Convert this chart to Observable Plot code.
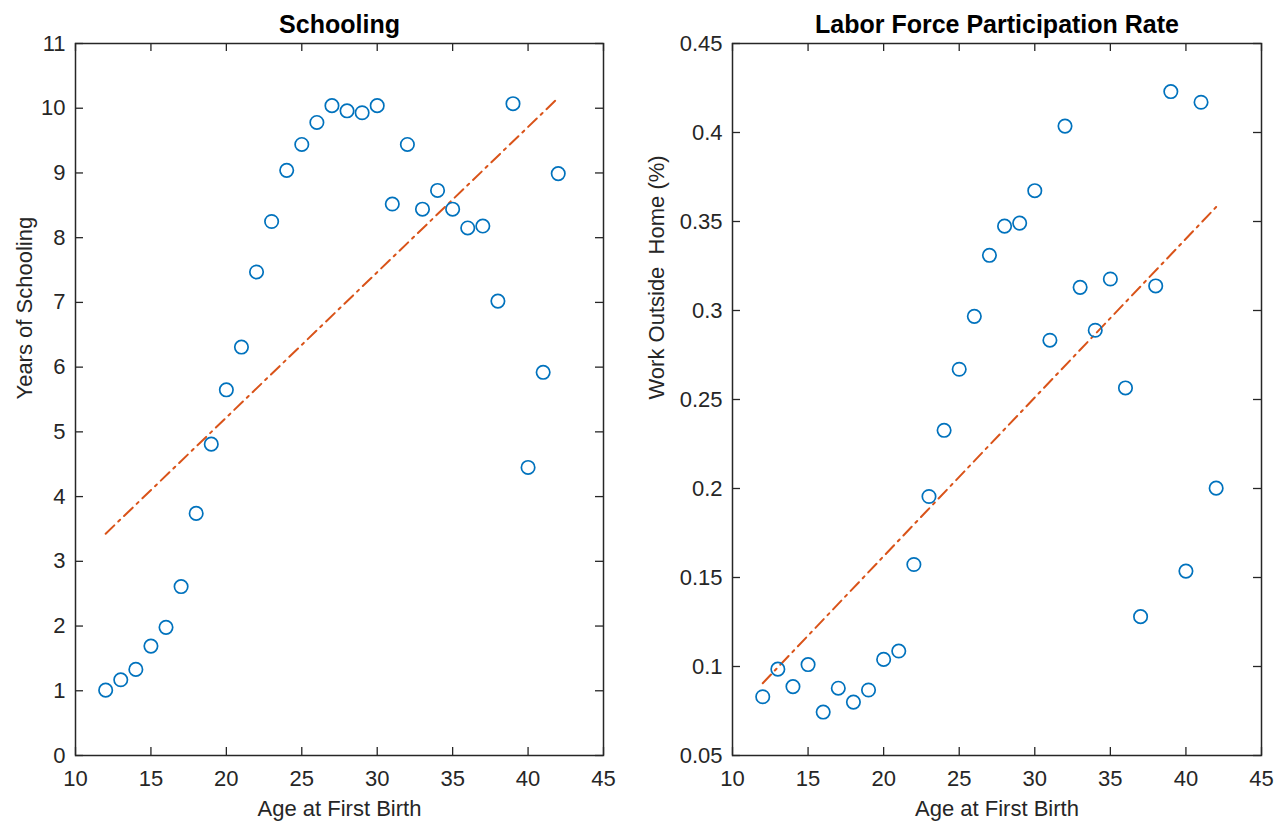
<!DOCTYPE html>
<html>
<head>
<meta charset="utf-8">
<script src="https://cdn.jsdelivr.net/npm/d3@7"></script>
<script src="https://cdn.jsdelivr.net/npm/@observablehq/plot@0.6"></script>
<style>
  html, body { margin: 0; padding: 0; background: #fff; }
  #wrap { display: flex; width: 1280px; height: 823px; }
</style>
</head>
<body>
<div id="wrap"></div>
<script>
// ---- data ----
const ages = [12,13,14,15,16,17,18,19,20,21,22,23,24,25,26,27,28,29,30,31,32,33,34,35,36,37,38,39,40,41,42];
const schooling = [1.01,1.17,1.33,1.69,1.98,2.61,3.74,4.81,5.65,6.31,7.47,8.25,9.04,9.44,9.78,10.04,9.96,9.93,10.04,8.52,9.44,8.44,8.73,8.44,8.15,8.18,7.02,10.07,4.45,5.92,8.99];
const lfpr = [0.083,0.0985,0.0887,0.1011,0.0744,0.0878,0.080,0.0868,0.104,0.1087,0.1573,0.1955,0.2327,0.267,0.2967,0.331,0.3474,0.3491,0.3673,0.2833,0.4036,0.313,0.2889,0.3177,0.2565,0.128,0.3138,0.423,0.1536,0.417,0.2002];
const xTicks = [10,15,20,25,30,35,40,45];
const yTicksSchool = [0,1,2,3,4,5,6,7,8,9,10,11];
const yTicksLfpr = [0.05,0.1,0.15,0.2,0.25,0.3,0.35,0.4,0.45];
const titles = ["Schooling", "Labor Force Participation Rate"];
const xLabel = "Age at First Birth";
const yLabels = ["Years of Schooling", "Work Outside  Home (%)"];

const W = 640, H = 823, MT = 43, MB = 68;
const AX = "#262626";

function panel({title, ys, yTicks, yLabel, marginLeft, marginRight, yLabelDx}) {
  const data = ages.map((x, i) => ({x, y: ys[i]}));
  const fw = W - marginLeft - marginRight, fh = H - MT - MB;
  const tl = 8;
  return Plot.plot({
    width: W, height: H, marginLeft, marginRight, marginTop: MT, marginBottom: MB,
    style: {fontFamily: "'Liberation Sans', Arial, sans-serif", fontSize: "22px", color: AX, background: "white", overflow: "visible"},
    x: {domain: [10, 45]},
    y: {domain: [yTicks[0], yTicks[yTicks.length - 1]]},
    marks: [
      Plot.axisX(xTicks, {tickSize: 0, tickPadding: 15, label: null, fontSize: 22, fill: AX}),
      Plot.axisY(yTicks, {tickSize: 0, tickPadding: 10, label: null, fontSize: 22, fill: AX, tickFormat: d => String(d)}),
      Plot.tickX(xTicks, {x: d => d, insetTop: fh - tl, stroke: AX, strokeWidth: 1.3}),
      Plot.tickX(xTicks, {x: d => d, insetBottom: fh - tl, stroke: AX, strokeWidth: 1.3}),
      Plot.tickY(yTicks, {y: d => d, insetRight: fw - tl, stroke: AX, strokeWidth: 1.3}),
      Plot.tickY(yTicks, {y: d => d, insetLeft: fw - tl, stroke: AX, strokeWidth: 1.3}),
      Plot.frame({stroke: AX, strokeWidth: 1.5}),
      Plot.linearRegressionY(data, {x: "x", y: "y", ci: 0, stroke: "#D95319", strokeWidth: 2, strokeDasharray: "12,5.5,2.5,5.5"}),
      Plot.dot(data, {x: "x", y: "y", r: 6.7, stroke: "#0072BD", strokeWidth: 1.7, fill: "none"}),
      Plot.text([title], {text: d => d, frameAnchor: "top", lineAnchor: "middle", dy: -19, fontWeight: "bold", fontSize: 25, fill: "#000"}),
      Plot.text([xLabel], {text: d => d, frameAnchor: "bottom", lineAnchor: "middle", dy: 53, fontSize: 22, fill: AX}),
      Plot.text([yLabel], {text: d => d, frameAnchor: "left", dx: yLabelDx, rotate: -90, fontSize: 22, fill: AX})
    ]
  });
}

const wrap = document.getElementById("wrap");
wrap.append(panel({title: titles[0], ys: schooling, yTicks: yTicksSchool, yLabel: yLabels[0], marginLeft: 75, marginRight: 37, yLabelDx: -51}));
wrap.append(panel({title: titles[1], ys: lfpr, yTicks: yTicksLfpr, yLabel: yLabels[1], marginLeft: 92, marginRight: 19, yLabelDx: -76}));
</script>
</body>
</html>
